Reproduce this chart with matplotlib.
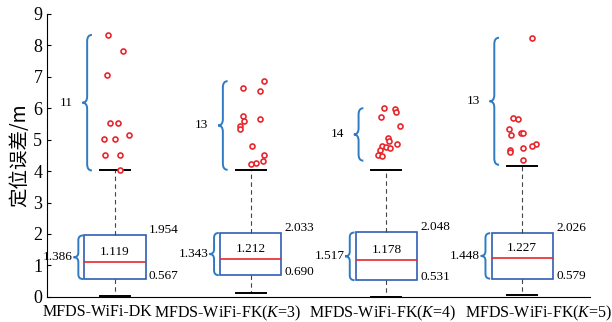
import numpy as np
import matplotlib
matplotlib.use("Agg")
import matplotlib.pyplot as plt
from matplotlib.path import Path
from matplotlib.patches import PathPatch

# -------------------------------
# DATA
# -------------------------------
methods = ["MFDS-WiFi-DK", "MFDS-WiFi-FK($K$=3)", "MFDS-WiFi-FK($K$=4)", "MFDS-WiFi-FK($K$=5)"]
q1 = [0.567, 0.690, 0.531, 0.579]
med = [1.119, 1.212, 1.178, 1.227]
q3 = [1.954, 2.033, 2.048, 2.026]
whis_lo = [0.02, 0.13, 0.01, 0.07]
whis_hi = [4.02, 4.04, 4.04, 4.15]
iqr_labels = ["1.386", "1.343", "1.517", "1.448"]
outlier_counts = ["11", "13", "14", "13"]
brace_lo = [4.02, 4.04, 4.33, 4.20]

out_y = [
    [8.33, 7.83, 7.04, 5.52, 5.52, 5.03, 5.03, 5.16, 4.52, 4.52, 4.04],
    [6.86, 6.65, 6.56, 5.76, 5.59, 5.66, 5.42, 5.33, 4.81, 4.51, 4.32, 4.27, 4.24],
    [6.00, 5.97, 5.87, 5.72, 5.44, 5.04, 4.95, 4.85, 4.81, 4.78, 4.72, 4.66, 4.50, 4.49],
    [8.24, 5.69, 5.66, 5.33, 5.15, 5.22, 5.20, 4.87, 4.81, 4.75, 4.68, 4.60, 4.34],
]
# horizontal jitter of each outlier (box units)
out_dx = [
    [-0.05, 0.06, -0.06, -0.04, 0.02, -0.08, 0.00, 0.10, -0.07, 0.04, 0.04],
    [0.10, -0.06, 0.07, -0.06, -0.05, 0.07, -0.08, -0.08, 0.01, 0.10, 0.09, 0.04, 0.00],
    [-0.02, 0.06, 0.07, -0.04, 0.10, 0.01, 0.02, 0.08, -0.03, 0.00, 0.03, -0.05, -0.06, -0.03],
    [0.07, -0.07, -0.03, -0.10, -0.08, -0.01, 0.01, 0.10, 0.07, 0.01, -0.09, -0.09, 0.01],
]

BLUE = "#2f5fb3"
BRACE = "#2e7bc4"
RED = "#e8262c"

plt.rcParams["font.family"] = ["Liberation Serif", "Noto Sans CJK SC"]
plt.rcParams["mathtext.fontset"] = "custom"
plt.rcParams["mathtext.it"] = "Liberation Serif:italic"
plt.rcParams["mathtext.rm"] = "Liberation Serif"

fig = plt.figure(figsize=(6.12, 3.22), dpi=100)
ax = fig.add_axes([0.077, 0.078, 0.887, 0.879])

pos = np.arange(1, len(methods) + 1)
stats = []
for i in range(len(methods)):
    stats.append(dict(med=med[i], q1=q1[i], q3=q3[i],
                      whislo=whis_lo[i], whishi=whis_hi[i], fliers=[]))

ax.bxp(stats, positions=pos, widths=0.45, showfliers=False, patch_artist=True,
       boxprops=dict(facecolor="white", edgecolor=BLUE, linewidth=1.2),
       medianprops=dict(color=RED, linewidth=1.2),
       whiskerprops=dict(color="#444444", linewidth=0.8, linestyle=(0, (4, 3))),
       capprops=dict(color="black", linewidth=1.4),
       capwidths=0.22)

for i in range(len(methods)):
    ax.plot(pos[i] + np.array(out_dx[i]), out_y[i], "o", ms=3.6, mfc="white",
            mec=RED, mew=1.2, zorder=5)


def brace(x, y0, y1, w=0.035, r=0.2):
    # left-pointing curly brace between y0 and y1, spine at x
    ym = (y0 + y1) / 2
    verts = [(x + w, y1), (x, y1), (x, y1 - r),
             (x, ym + r), (x, ym), (x - w, ym),
             (x, ym), (x, ym - r),
             (x, y0 + r), (x, y0), (x + w, y0)]
    codes = [Path.MOVETO, Path.CURVE3, Path.CURVE3,
             Path.LINETO, Path.CURVE3, Path.CURVE3,
             Path.CURVE3, Path.CURVE3,
             Path.LINETO, Path.CURVE3, Path.CURVE3]
    ax.add_patch(PathPatch(Path(verts, codes), fill=False, edgecolor=BRACE, lw=1.4))


for i in range(len(methods)):
    p = pos[i]
    top = max(out_y[i])
    # brace over outliers
    brace(p - 0.205, brace_lo[i], top)
    ax.text(p - 0.36, (brace_lo[i] + top) / 2, outlier_counts[i], fontsize=9.5,
            ha="center", va="center")
    # brace over box
    brace(p - 0.27, q1[i], q3[i], r=0.15)
    ax.text(p - 0.31, (q1[i] + q3[i]) / 2, iqr_labels[i], fontsize=9.5,
            ha="right", va="center")
    ax.text(p + 0.25, q3[i] + 0.17, "%.3f" % q3[i], fontsize=9.5, ha="left", va="center")
    ax.text(p + 0.25, q1[i] + 0.1, "%.3f" % q1[i], fontsize=9.5, ha="left", va="center")
    ax.text(p, med[i] + 0.32, "%.3f" % med[i], fontsize=9.5, ha="center", va="center")

ax.set_xlim(0.5, 4.5)
ax.set_ylim(0, 9)
ax.set_yticks(range(0, 10))
# labels in the source sit side by side, not exactly under each box
ax.set_xticks([0.87, 1.83, 2.97, 4.12])
ax.set_xticklabels(methods, fontsize=11.5)
ax.tick_params(axis="y", direction="in", length=3, labelsize=13)
ax.tick_params(axis="x", length=0, pad=5)
ax.set_ylabel("定位误差/m", fontsize=14, family=["Noto Sans CJK SC"], labelpad=2)
for s in ["top", "right"]:
    ax.spines[s].set_visible(False)

fig.savefig("out.png", dpi=100)
